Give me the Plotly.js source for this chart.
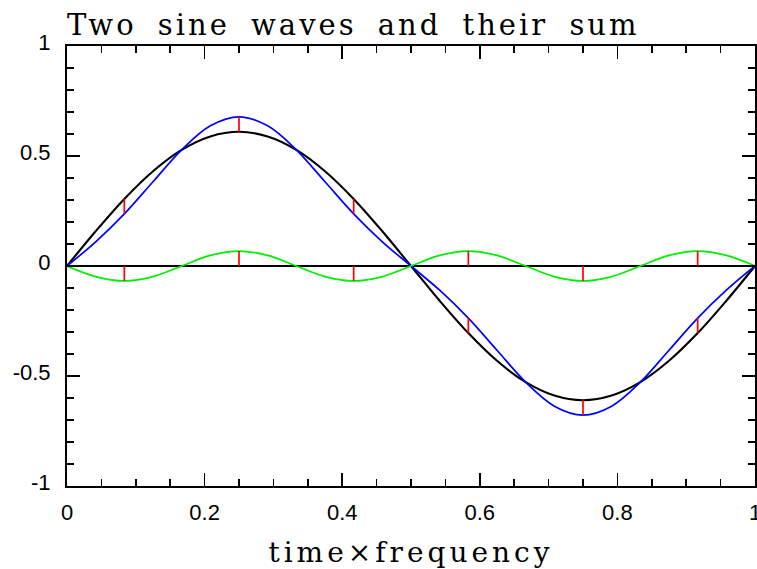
<!DOCTYPE html>
<html>
<head>
<meta charset="utf-8">
<script src="https://cdn.plot.ly/plotly-3.0.1.min.js"></script>
<style>
html,body{margin:0;padding:0;background:#fff;}
#chart{width:757px;height:569px;}
.gtitle{letter-spacing:3px;word-spacing:9px;}
.xtitle{letter-spacing:4px;}
</style>
</head>
<body>
<div id="chart"></div>
<script>
// time x frequency samples (k/24)
var timeFreq = [0, 0.04167, 0.08333, 0.125, 0.16667, 0.20833, 0.25, 0.29167, 0.33333, 0.375, 0.41667, 0.45833, 0.5,
                0.54167, 0.58333, 0.625, 0.66667, 0.70833, 0.75, 0.79167, 0.83333, 0.875, 0.91667, 0.95833, 1];
// fundamental wave (black)
var waveOne = [0, 0.158, 0.305, 0.431, 0.528, 0.589, 0.61, 0.589, 0.528, 0.431, 0.305, 0.158, 0,
               -0.158, -0.305, -0.431, -0.528, -0.589, -0.61, -0.589, -0.528, -0.431, -0.305, -0.158, 0];
// third harmonic (green)
var waveTwo = [0, -0.048, -0.068, -0.048, 0, 0.048, 0.068, 0.048, 0, -0.048, -0.068, -0.048, 0,
               0.048, 0.068, 0.048, 0, -0.048, -0.068, -0.048, 0, 0.048, 0.068, 0.048, 0];
// sum (blue)
var waveSum = [0, 0.110, 0.237, 0.383, 0.528, 0.637, 0.678, 0.637, 0.528, 0.383, 0.237, 0.110, 0,
               -0.110, -0.237, -0.383, -0.528, -0.637, -0.678, -0.637, -0.528, -0.383, -0.237, -0.110, 0];
// red marker positions
var markX = [0.08333, 0.25, 0.41667, 0.58333, 0.75, 0.91667];
var markOne = [0.305, 0.61, 0.305, -0.305, -0.61, -0.305];
var markSum = [0.237, 0.678, 0.237, -0.237, -0.678, -0.237];
var markTwo = [-0.068, 0.068, -0.068, 0.068, -0.068, 0.068];
var xTicks = [0, 0.2, 0.4, 0.6, 0.8, 1];
var xTickText = ["0", "0.2", "0.4", "0.6", "0.8", "1"];
var yTicks = [-1, -0.5, 0, 0.5, 1];
var yTickText = ["-1", "-0.5", "0", "0.5", "1"];

function segs(xs, y0, y1) {
  var x = [], y = [];
  for (var i = 0; i < xs.length; i++) {
    x.push(xs[i], xs[i], null);
    y.push(y0[i], y1[i], null);
  }
  return {x: x, y: y};
}
var zeros = markX.map(function(){return 0;});
var s1 = segs(markX, markOne, markSum);
var s2 = segs(markX, zeros, markTwo);

var traces = [
  {x: timeFreq, y: waveOne, mode: 'lines', line: {color: '#000', width: 2.1, shape: 'spline'}, hoverinfo: 'skip'},
  {x: timeFreq, y: waveSum, mode: 'lines', line: {color: '#0000ff', width: 1.7, shape: 'spline'}, hoverinfo: 'skip'},
  {x: timeFreq, y: waveTwo, mode: 'lines', line: {color: '#00ee00', width: 1.7, shape: 'spline'}, hoverinfo: 'skip'},
  {x: s1.x, y: s1.y, mode: 'lines', line: {color: '#ff0000', width: 1.7}, connectgaps: false, hoverinfo: 'skip'},
  {x: s2.x, y: s2.y, mode: 'lines', line: {color: '#ff0000', width: 1.7}, connectgaps: false, hoverinfo: 'skip'}
];

var tickFont = {family: 'Liberation Sans, Arial, sans-serif', size: 22, color: '#000'};

var layout = {
  width: 757, height: 569,
  margin: {l: 67, r: 2, t: 46, b: 83, pad: 0},
  paper_bgcolor: '#fff', plot_bgcolor: '#fff',
  showlegend: false,
  font: {family: 'Liberation Sans, Arial, sans-serif', size: 19, color: '#000'},
  title: {
    text: 'Two sine waves and their sum',
    font: {family: 'DejaVu Serif', size: 29, color: '#000'},
    x: 67/757, xref: 'container', xanchor: 'left',
    y: 1 - 25/569, yref: 'container', yanchor: 'middle'
  },
  xaxis: {
    range: [0, 1], tickvals: xTicks, ticktext: xTickText,
    ticks: 'inside', ticklen: 13, tickwidth: 1.5, tickcolor: '#000',
    minor: {dtick: 0.05, tick0: 0, ticks: 'inside', ticklen: 7, tickwidth: 1.5, tickcolor: '#000', showgrid: false},
    showline: true, linewidth: 2, linecolor: '#000', mirror: 'ticks',
    showgrid: false, zeroline: false,
    tickfont: tickFont, ticklabeloverflow: 'allow', ticklabelstandoff: 6,
    title: {text: 'time×frequency', font: {family: 'DejaVu Serif', size: 28, color: '#000'}, standoff: 18}
  },
  yaxis: {
    range: [-1, 1], tickvals: yTicks, ticktext: yTickText,
    ticks: 'inside', ticklen: 13, tickwidth: 1.5, tickcolor: '#000',
    minor: {dtick: 0.1, tick0: 0, ticks: 'inside', ticklen: 7, tickwidth: 1.5, tickcolor: '#000', showgrid: false},
    showline: true, linewidth: 2, linecolor: '#000', mirror: 'ticks',
    showgrid: false, zeroline: true, zerolinecolor: '#000', zerolinewidth: 1.5,
    tickfont: tickFont,
    ticklabelshift: -4, ticklabelstandoff: 10
  }
};
Plotly.newPlot('chart', traces, layout, {staticPlot: true, displayModeBar: false});
</script>
</body>
</html>
